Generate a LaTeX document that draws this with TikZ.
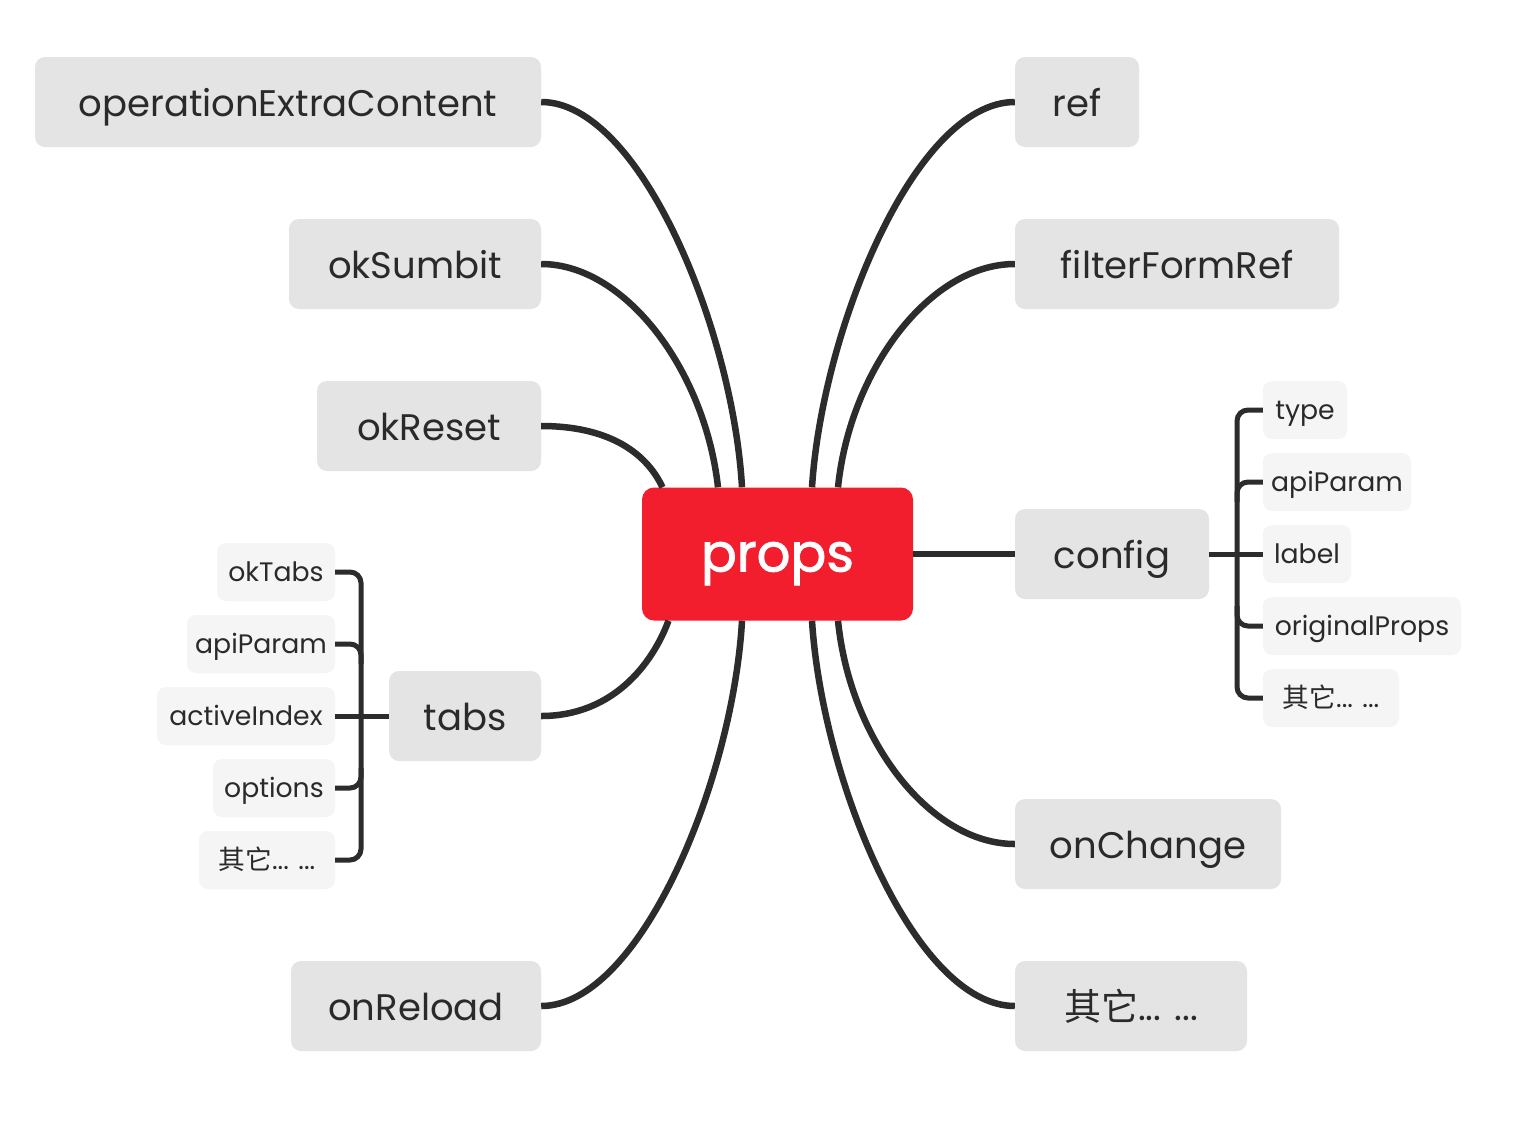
\documentclass[tikz,border=0pt]{standalone}
\usepackage{fontspec}
\setmainfont{Poppins}
\newfontfamily\cjk{Noto Sans CJK SC}
\newfontfamily\propsfont[FakeBold=1.6]{Poppins}
\definecolor{mainfill}{HTML}{E4E4E4}
\definecolor{subfill}{HTML}{F6F5F5}
\definecolor{linec}{HTML}{2C2C2C}
\definecolor{txt}{HTML}{2A2A2A}
\definecolor{propred}{HTML}{F21E2E}
\begin{document}
\begin{tikzpicture}[x=1pt,y=-1pt,
  main/.style={fill=mainfill, rounded corners=10pt, minimum height=90pt, inner sep=0pt, font=\fontsize{37}{44}\selectfont, text=txt, text height=29pt, text depth=0pt},
  sub/.style={fill=subfill, rounded corners=9pt, minimum height=58pt, inner sep=0pt, font=\fontsize{26.7}{32}\selectfont, text=txt, text height=19pt, text depth=0pt},
  conn/.style={draw=linec, line width=6.5pt},
  brk/.style={draw=linec, line width=5pt, rounded corners=11pt}]
\path[fill=white,use as bounding box] (0,0) rectangle (1538,1122);

% central node
\node[fill=propred, rounded corners=12pt, minimum width=271pt, minimum height=133pt, inner sep=0pt, text=white, font=\fontsize{53}{62}\propsfont, text height=35pt, text depth=0pt] (props) at (777.5,554) {props};

% left nodes
\node[main, minimum width=506pt] (op) at (288,102) {operationExtraContent};
\node[main, minimum width=252pt] (oksub) at (415,264) {okSumbit};
\node[main, minimum width=224pt] (okreset) at (429,426) {okReset};
\node[main, minimum width=152pt] (tabs) at (465,716) {tabs};
\node[main, minimum width=250pt] (onreload) at (416,1006) {onReload};

% right nodes
\node[main, minimum width=124pt] (ref) at (1077,102) {ref};
\node[main, minimum width=324pt] (ffref) at (1177,264) {filterFormRef};
\node[main, minimum width=194pt] (config) at (1112,554) {config};
\node[main, minimum width=266pt] (onchange) at (1148,844) {onChange};
\node[main, minimum width=232pt] (rother) at (1131,1006) {{\cjk 其它}... ...};

% config children
\node[sub, minimum width=84pt] (ctype) at (1305,410) {type};
\node[sub, minimum width=148pt] (capi) at (1337,482) {apiParam};
\node[sub, minimum width=88pt] (clabel) at (1307,554) {label};
\node[sub, minimum width=198pt] (corig) at (1362,626) {originalProps};
\node[sub, minimum width=136pt] (cother) at (1331,698) {{\cjk 其它}... ...};

% tabs children
\node[sub, minimum width=118pt] (tok) at (276,572) {okTabs};
\node[sub, minimum width=148pt] (tapi) at (261,644) {apiParam};
\node[sub, minimum width=178pt] (tact) at (246,716) {activeIndex};
\node[sub, minimum width=122pt] (topt) at (274,788) {options};
\node[sub, minimum width=136pt] (tother) at (267,860) {{\cjk 其它}... ...};

% connectors left
\draw[conn] (op.east) .. controls (640,102) and (733,330) .. ([xshift=-35.5pt]props.north);
\draw[conn] (oksub.east) .. controls (625,264) and (705,370) .. ([xshift=-59.5pt]props.north);
\draw[conn] (okreset.east) .. controls (605,426) and (645,450) .. ([xshift=-115pt]props.north);
\draw[conn] (tabs.east) .. controls (612,716) and (652,665) .. ([xshift=-109pt]props.south);
\draw[conn] (onreload.east) .. controls (640,1006) and (733,780) .. ([xshift=-35.5pt]props.south);

% connectors right
\draw[conn] (ref.west) .. controls (915,102) and (822,330) .. ([xshift=34.5pt]props.north);
\draw[conn] (ffref.west) .. controls (930,264) and (850,370) .. ([xshift=60.5pt]props.north);
\draw[conn] (props.east) -- (config.west);
\draw[conn] (onchange.west) .. controls (930,844) and (850,740) .. ([xshift=60.5pt]props.south);
\draw[conn] (rother.west) .. controls (915,1006) and (822,780) .. ([xshift=34.5pt]props.south);

% config bracket
\draw[brk] (ctype.west) -- (1237,410) -- (1237,698) -- (cother.west);
\draw[brk] (capi.west) -- (1237,482) -- (1237,502);
\draw[brk] (corig.west) -- (1237,626) -- (1237,606);
\draw[brk, rounded corners=0pt] (config.east) -- (clabel.west);

% tabs bracket
\draw[brk] (tok.east) -- (361,572) -- (361,860) -- (tother.east);
\draw[brk] (tapi.east) -- (361,644) -- (361,664);
\draw[brk] (topt.east) -- (361,788) -- (361,768);
\draw[brk, rounded corners=0pt] (tact.east) -- (tabs.west);
\end{tikzpicture}
\end{document}
